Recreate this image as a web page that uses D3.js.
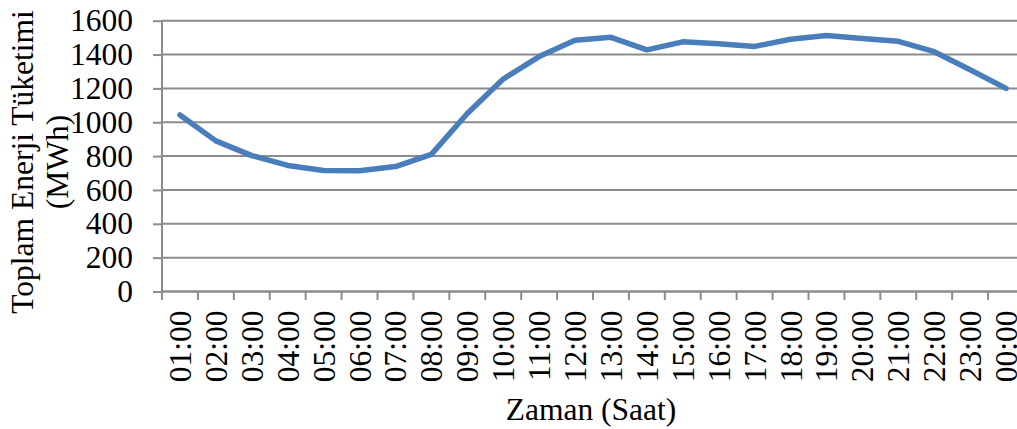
<!DOCTYPE html>
<html>
<head>
<meta charset="utf-8">
<script src="https://cdn.jsdelivr.net/npm/d3@7"></script>
<style>
  body { margin: 0; background: #fff; }
  svg { display: block; overflow: hidden; }
  .tickText { font-family: "Liberation Serif", "Times New Roman", serif; font-size: 31.5px; fill: #000; }
  .titleText { font-family: "Liberation Serif", "Times New Roman", serif; font-size: 31.5px; fill: #000; }
</style>
</head>
<body>
<svg id="chart"></svg>
<script>
var hours = ["01:00","02:00","03:00","04:00","05:00","06:00","07:00","08:00","09:00","10:00","11:00","12:00",
             "13:00","14:00","15:00","16:00","17:00","18:00","19:00","20:00","21:00","22:00","23:00","00:00"];
var consumption = [1043, 890, 803, 745, 715, 713, 738, 810, 1052, 1255, 1388, 1485,
                   1502, 1428, 1475, 1464, 1448, 1490, 1513, 1495, 1478, 1417, 1310, 1200];
var yTicks = [0, 200, 400, 600, 800, 1000, 1200, 1400, 1600];

var width = 1017, height = 429;
var plot_left = 162, plot_right = 1024, plot_top = 20.7, plot_bottom = 291.5;
var grid_color = "#8c8c8c";

var svg = d3.select("#chart").attr("width", width).attr("height", height);

var x = d3.scaleBand().domain(hours).range([plot_left, plot_right]).padding(0);
var y = d3.scaleLinear().domain([0, 1600]).range([plot_bottom, plot_top]);

// horizontal gridlines
svg.selectAll(".grid")
    .data(yTicks)
    .enter().append("line")
    .attr("class", "grid")
    .attr("x1", plot_left)
    .attr("x2", plot_right)
    .attr("y1", function(d) { return y(d); })
    .attr("y2", function(d) { return y(d); })
    .attr("stroke", grid_color)
    .attr("stroke-width", 2);

// y axis
var yAxis = svg.append("g")
    .attr("transform", "translate(" + plot_left + ",0)")
    .call(d3.axisLeft(y).tickValues(yTicks).tickFormat(d3.format("d"))
        .tickSize(9).tickPadding(20).tickSizeOuter(0));
yAxis.select(".domain").attr("stroke", grid_color).attr("stroke-width", 2)
    .attr("d", "M0," + plot_top + "V" + (plot_bottom + 8.5));
yAxis.selectAll(".tick line").attr("stroke", grid_color).attr("stroke-width", 2);
yAxis.selectAll(".tick text").attr("class", "tickText").attr("font-size", null).attr("font-family", null);

// x axis labels, rotated
var xAxis = svg.append("g")
    .attr("transform", "translate(0," + plot_bottom + ")")
    .call(d3.axisBottom(x).tickSize(0).tickSizeOuter(0));
xAxis.select(".domain").remove();
xAxis.selectAll(".tick text")
    .attr("class", "tickText")
    .attr("font-size", null).attr("font-family", null)
    .attr("transform", "rotate(-90)")
    .attr("text-anchor", "end")
    .attr("x", -19)
    .attr("y", 0)
    .attr("dy", "0.35em");

// x axis line and boundary ticks
svg.append("line")
    .attr("x1", plot_left).attr("x2", plot_right)
    .attr("y1", y(0)).attr("y2", y(0))
    .attr("stroke", grid_color).attr("stroke-width", 2);

svg.selectAll(".xTick")
    .data(hours)
    .enter().append("line")
    .attr("class", "xTick")
    .attr("x1", function(d) { return x(d); })
    .attr("x2", function(d) { return x(d); })
    .attr("y1", y(0))
    .attr("y2", y(0) + 8.5)
    .attr("stroke", grid_color)
    .attr("stroke-width", 2);

// consumption line
var line = d3.line()
    .x(function(d, i) { return x(hours[i]) + x.bandwidth() / 2; })
    .y(function(d) { return y(d); });

svg.append("path")
    .datum(consumption)
    .attr("d", line)
    .attr("fill", "none")
    .attr("stroke", "#4a7ebb")
    .attr("stroke-width", 5.5)
    .attr("stroke-linejoin", "round")
    .attr("stroke-linecap", "round");

// axis titles
svg.append("text")
    .attr("class", "titleText")
    .attr("text-anchor", "middle")
    .attr("x", (plot_left + plot_right) / 2 - 2)
    .attr("y", 420)
    .text("Zaman (Saat)");

var yTitle = svg.append("text")
    .attr("class", "titleText")
    .attr("text-anchor", "middle")
    .attr("transform", "translate(33,162) rotate(-90)");
yTitle.append("tspan").attr("x", 0).attr("y", 0).text("Toplam Enerji Tüketimi");
yTitle.append("tspan").attr("x", 0).attr("y", 35).text("(MWh)");
</script>
</body>
</html>
